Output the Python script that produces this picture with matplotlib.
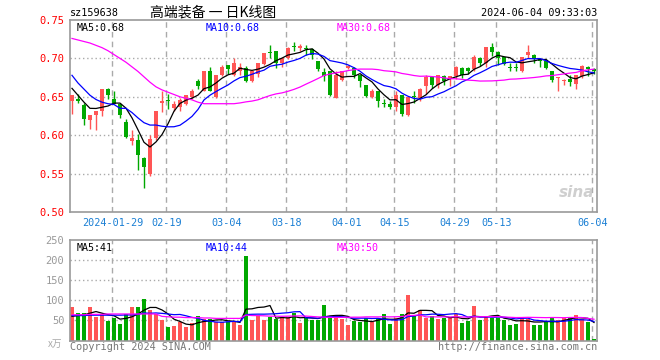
import numpy as np
import matplotlib.pyplot as plt

# daily K-line, 88 trading days (2024-01-18 .. 2024-06-04)
opens = [0.644, 0.647, 0.639, 0.620, 0.626, 0.631, 0.660, 0.647, 0.640, 0.617,
         0.592, 0.594, 0.570, 0.549, 0.597, 0.642, 0.645, 0.636, 0.637, 0.640,
         0.650, 0.670, 0.657, 0.683, 0.650, 0.678, 0.691, 0.679, 0.684, 0.688,
         0.670, 0.680, 0.693, 0.708, 0.709, 0.694, 0.700, 0.716, 0.714, 0.713,
         0.712, 0.697, 0.682, 0.684, 0.649, 0.672, 0.687, 0.688, 0.678, 0.666,
         0.650, 0.658, 0.6405, 0.640, 0.637, 0.652, 0.626, 0.6505, 0.648, 0.664,
         0.676, 0.665, 0.677, 0.675, 0.677, 0.687, 0.687, 0.686, 0.701, 0.694,
         0.715, 0.708, 0.702, 0.6885, 0.689, 0.684, 0.704, 0.704, 0.699, 0.697,
         0.684, 0.674, 0.670, 0.673, 0.667, 0.677, 0.689, 0.686]
highs = [0.652, 0.653, 0.642, 0.626, 0.631, 0.660, 0.661, 0.657, 0.642, 0.621,
         0.607, 0.602, 0.572, 0.600, 0.631, 0.658, 0.654, 0.644, 0.649, 0.652,
         0.660, 0.673, 0.683, 0.689, 0.678, 0.691, 0.691, 0.700, 0.694, 0.690,
         0.683, 0.694, 0.707, 0.717, 0.709, 0.700, 0.715, 0.722, 0.719, 0.717,
         0.714, 0.697, 0.688, 0.684, 0.683, 0.684, 0.691, 0.689, 0.679, 0.666,
         0.660, 0.658, 0.647, 0.645, 0.657, 0.652, 0.650, 0.658, 0.661, 0.678,
         0.676, 0.679, 0.678, 0.677, 0.690, 0.689, 0.689, 0.704, 0.702, 0.715,
         0.720, 0.710, 0.702, 0.694, 0.694, 0.702, 0.717, 0.706, 0.699, 0.699,
         0.684, 0.676, 0.673, 0.678, 0.678, 0.692, 0.690, 0.688]
lows = [0.628, 0.642, 0.613, 0.608, 0.607, 0.625, 0.647, 0.640, 0.623, 0.596,
        0.587, 0.555, 0.531, 0.547, 0.594, 0.630, 0.634, 0.631, 0.631, 0.639,
        0.647, 0.660, 0.657, 0.657, 0.649, 0.677, 0.680, 0.677, 0.679, 0.669,
        0.669, 0.676, 0.692, 0.701, 0.688, 0.689, 0.699, 0.710, 0.710, 0.705,
        0.699, 0.684, 0.670, 0.651, 0.648, 0.670, 0.686, 0.674, 0.663, 0.650,
        0.649, 0.637, 0.637, 0.634, 0.631, 0.625, 0.625, 0.642, 0.645, 0.654,
        0.662, 0.661, 0.666, 0.664, 0.673, 0.675, 0.680, 0.684, 0.690, 0.689,
        0.703, 0.692, 0.691, 0.684, 0.684, 0.682, 0.701, 0.694, 0.689, 0.686,
        0.669, 0.658, 0.665, 0.664, 0.660, 0.674, 0.677, 0.680]
closes = [0.652, 0.644, 0.621, 0.626, 0.631, 0.660, 0.652, 0.640, 0.626, 0.598,
          0.597, 0.574, 0.559, 0.595, 0.631, 0.645, 0.644, 0.641, 0.646, 0.652,
          0.658, 0.664, 0.683, 0.657, 0.678, 0.689, 0.686, 0.694, 0.689, 0.670,
          0.683, 0.694, 0.707, 0.707, 0.694, 0.700, 0.714, 0.715, 0.716, 0.712,
          0.705, 0.686, 0.677, 0.652, 0.679, 0.684, 0.690, 0.678, 0.670, 0.651,
          0.658, 0.644, 0.640, 0.637, 0.652, 0.627, 0.650, 0.650, 0.660, 0.676,
          0.665, 0.679, 0.670, 0.677, 0.689, 0.678, 0.683, 0.702, 0.694, 0.715,
          0.708, 0.701, 0.693, 0.688, 0.687, 0.702, 0.708, 0.699, 0.697, 0.687,
          0.672, 0.676, 0.672, 0.669, 0.678, 0.690, 0.686, 0.683]
# volume, 万手
volumes = [83, 68, 68, 83, 58, 63, 49, 55, 41, 67,
           83, 83, 103, 75, 67, 52, 34, 37, 47, 34,
           43, 60, 53, 53, 46, 46, 47, 47, 39, 211,
           50, 64, 52, 58, 53, 59, 58, 69, 44, 56,
           52, 52, 89, 57, 62, 53, 39, 49, 46, 56,
           45, 56, 66, 41, 56, 66, 114, 62, 77, 56,
           62, 53, 56, 56, 66, 43, 49, 87, 52, 62,
           56, 56, 52, 39, 41, 58, 53, 39, 39, 47,
           56, 52, 56, 56, 64, 53, 47, 4]

# moving-average values before enough visible days exist
ma5_head = [0.661, 0.652, 0.643, 0.635]
ma10_head = [0.678, 0.668, 0.660, 0.652, 0.6465, 0.643, 0.641, 0.640, 0.635]
ma30_head = [0.726, 0.724, 0.722, 0.720, 0.717, 0.714, 0.710, 0.705, 0.700, 0.695,
             0.689, 0.683, 0.676, 0.669, 0.663, 0.659, 0.656, 0.653, 0.650, 0.648,
             0.646, 0.643, 0.641, 0.641, 0.641, 0.641, 0.641, 0.641, 0.642]
vma5_head = [60, 62, 64, 68]
vma10_head = [62, 62, 62, 63, 63, 63, 63, 63, 63]
vma30_head = [64, 64, 64, 65, 65, 65, 66, 66, 66, 66, 66, 66, 66, 66, 66,
              60, 59, 58, 58, 57, 57, 57, 56, 56, 55, 55, 55, 55, 55]

tick_idx = [7, 16, 26, 36, 46, 54, 64, 71, 87]
tick_labels = ["2024-01-29", "02-19", "03-04", "03-18", "04-01",
               "04-15", "04-29", "05-13", "06-04"]


def moving_avg(vals, n, head):
    out = list(head)
    for i in range(len(head), len(vals)):
        out.append(np.mean(vals[i - n + 1:i + 1]))
    return out


RED = "#ff5555"
GREEN = "#00a800"
GRID = "#aaaaaa"
MONO = "DejaVu Sans Mono"

n = len(closes)
x = np.arange(n)
o = np.array(opens)
c = np.array(closes)
up = c >= o
colors = np.where(up, RED, GREEN)

fig = plt.figure(figsize=(6.6, 3.6), dpi=100)
ax = fig.add_axes([70 / 660, 1 - 212 / 360, 527 / 660, 192 / 360])
axv = fig.add_axes([70 / 660, 1 - 340.5 / 360, 527 / 660, 100.5 / 360])

for a in (ax, axv):
    a.set_xlim(-0.33, 87.5)
    for s in a.spines.values():
        s.set_color("#999999")
        s.set_linewidth(1.2)
    a.set_xticks([])
    a.tick_params(axis="y", length=0, pad=4)
    for t in tick_idx:
        a.axvline(t - 0.25, color=GRID, ls=(0, (4, 3)), lw=1, zorder=0)

# price panel
ax.set_ylim(0.50, 0.75)
for lv in [0.55, 0.60, 0.65, 0.70]:
    ax.axhline(lv, color=GRID, ls=(0, (1, 2)), lw=1, zorder=0)
ax.vlines(x, lows, highs, colors=colors, lw=1, zorder=2)
body = np.maximum(np.abs(c - o), 0.0013)
ax.bar(x, body, bottom=np.minimum(o, c), width=0.82, color=colors, lw=0, zorder=3)
ax.plot(x, moving_avg(closes, 5, ma5_head), color="black", lw=0.9, zorder=4)
ax.plot(x, moving_avg(closes, 10, ma10_head), color="#0000ff", lw=0.9, zorder=4)
ax.plot(x, moving_avg(closes, 30, ma30_head), color="#ff00ff", lw=0.9, zorder=4)
ax.set_yticks([0.50, 0.55, 0.60, 0.65, 0.70, 0.75])
ax.set_yticklabels(["0.50", "0.55", "0.60", "0.65", "0.70", "0.75"],
                   color="#ff0000", fontsize=7.5, family=MONO)
ax.text(0.012, 0.985, "MA5:0.68", transform=ax.transAxes, va="top",
        fontsize=7.2, family=MONO, color="black")
ax.text(0.258, 0.985, "MA10:0.68", transform=ax.transAxes, va="top",
        fontsize=7.2, family=MONO, color="#0000ff")
ax.text(0.505, 0.985, "MA30:0.68", transform=ax.transAxes, va="top",
        fontsize=7.2, family=MONO, color="#ff00ff")
ax.text(0.995, 0.06, "sina", transform=ax.transAxes, ha="right", va="bottom",
        fontsize=11, style="italic", weight="bold", color="#bbbbbb", alpha=0.7)
for t, lab in zip(tick_idx, tick_labels):
    ax.text(t - 0.25, -0.03, lab, transform=ax.get_xaxis_transform(),
            ha="center", va="top", fontsize=7.3, family=MONO, color="#1a7fd4")

# volume panel
axv.set_ylim(0, 250)
for lv in [50, 100, 150, 200]:
    axv.axhline(lv, color=GRID, ls=(0, (1, 2)), lw=1, zorder=0)
axv.bar(x, volumes, width=0.82, color=colors, lw=0, zorder=2)
axv.plot(x, moving_avg(volumes, 5, vma5_head), color="black", lw=0.9, zorder=3)
axv.plot(x, moving_avg(volumes, 10, vma10_head), color="#0000ff", lw=0.9, zorder=3)
axv.plot(x, moving_avg(volumes, 30, vma30_head), color="#ff00ff", lw=0.9, zorder=3)
axv.set_yticks([50, 100, 150, 200, 250])
axv.set_yticklabels(["50", "100", "150", "200", "250"],
                    color="#999999", fontsize=7.5, family=MONO)
axv.text(0.012, 0.97, "MA5:41", transform=axv.transAxes, va="top",
         fontsize=7.2, family=MONO, color="black")
axv.text(0.258, 0.97, "MA10:44", transform=axv.transAxes, va="top",
         fontsize=7.2, family=MONO, color="#0000ff")
axv.text(0.505, 0.97, "MA30:50", transform=axv.transAxes, va="top",
         fontsize=7.2, family=MONO, color="#ff00ff")

# header and footer texts
fig.text(70 / 660, 1 - 13 / 360, "sz159638", va="center", fontsize=7.3,
         family=MONO, color="black")
fig.text(213 / 660, 1 - 13 / 360, "高端装备 一 日K线图", ha="center", va="center",
         fontsize=10, family=["Noto Sans CJK SC", "DejaVu Sans"], color="black")
fig.text(597 / 660, 1 - 13 / 360, "2024-06-04 09:33:03", ha="right", va="center",
         fontsize=7.3, family=MONO, color="black")
fig.text(48 / 660, 1 - 344 / 360, "x万", va="center", fontsize=7,
         family=["Noto Sans CJK SC", "DejaVu Sans"], color="#aaaaaa")
fig.text(70 / 660, 1 - 347 / 360, "Copyright 2024 SINA.COM", va="center",
         fontsize=7.3, family=MONO, color="#777777")
fig.text(597 / 660, 1 - 347 / 360, "http://finance.sina.com.cn", ha="right",
         va="center", fontsize=7.3, family=MONO, color="#777777")

fig.savefig("out.png", dpi=100, facecolor="white")
